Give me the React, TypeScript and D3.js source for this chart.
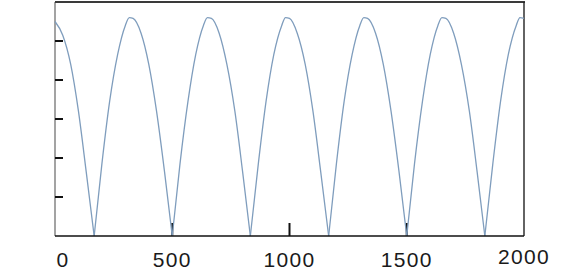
import React from "react";
import * as d3 from "d3";

// x positions (data units) and curve values
const xValues: number[] = [
  0, 33, 67, 100, 133, 167,
  200, 233, 267, 300, 317, 333, 367, 400, 433, 467, 500,
  533, 567, 600, 633, 650, 667, 700, 733, 767, 800, 833,
  867, 900, 933, 967, 983, 1000, 1033, 1067, 1100, 1133, 1167,
  1200, 1233, 1267, 1300, 1317, 1333, 1367, 1400, 1433, 1467, 1500,
  1533, 1567, 1600, 1633, 1650, 1667, 1700, 1733, 1767, 1800, 1833,
  1867, 1900, 1933, 1967, 1983, 2000,
];
const yValues: number[] = [
  5.5, 5.15, 4.4, 3.2, 1.65, 0,
  1.85, 3.45, 4.65, 5.4, 5.6, 5.58, 5.2, 4.4, 3.2, 1.65, 0,
  1.85, 3.45, 4.65, 5.4, 5.6, 5.58, 5.2, 4.4, 3.2, 1.65, 0,
  1.85, 3.45, 4.65, 5.4, 5.6, 5.58, 5.2, 4.4, 3.2, 1.65, 0,
  1.85, 3.45, 4.65, 5.4, 5.6, 5.58, 5.2, 4.4, 3.2, 1.65, 0,
  1.85, 3.45, 4.65, 5.4, 5.6, 5.58, 5.2, 4.4, 3.2, 1.65, 0,
  1.85, 3.45, 4.65, 5.4, 5.6, 5.58,
];
const xTicks: number[] = [0, 500, 1000, 1500, 2000];
const xTickLabels: string[] = ["0", "500", "1000", "1500", "2000"];
const yTicks: number[] = [1, 2, 3, 4, 5];

const W = 579;
const H = 275;
const L = 55;
const R = 524;
const T = 2;
const B = 236;

export default function App() {
  const x = d3.scaleLinear().domain([0, 2000]).range([L, R]);
  const y = d3.scaleLinear().domain([0, 6]).range([B, T]);

  const pts = xValues.map((xv, i) => ({ x: xv, y: yValues[i] }));
  // split into arches at the zero cusps so each cusp stays sharp
  const arches: { x: number; y: number }[][] = [];
  let cur: { x: number; y: number }[] = [];
  pts.forEach((p, i) => {
    cur.push(p);
    if (p.y === 0 && i > 0 && i < pts.length - 1) {
      arches.push(cur);
      cur = [p];
    }
  });
  if (cur.length > 1) arches.push(cur);

  const line = d3
    .line<{ x: number; y: number }>()
    .x((d) => x(d.x))
    .y((d) => y(d.y))
    .curve(d3.curveMonotoneX);

  return (
    <svg
      width={W}
      height={H}
      style={{ position: "absolute", left: 0, top: 0, background: "#fff" }}
      fontFamily="'Liberation Sans', Arial, sans-serif"
    >
      <rect x={0} y={0} width={W} height={H} fill="#fff" />
      {/* frame */}
      <line x1={L} x2={L} y1={T} y2={B} stroke="#8c8c8c" strokeWidth={1.6} />
      <line x1={L} x2={R + 1} y1={T} y2={T} stroke="#3a3a3a" strokeWidth={1.8} />
      <line x1={R} x2={R} y1={T} y2={B} stroke="#222" strokeWidth={1.4} />
      {/* y ticks */}
      {yTicks.map((t) => (
        <line key={"y" + t} x1={L} x2={L + 8} y1={y(t)} y2={y(t)} stroke="#111" strokeWidth={2} />
      ))}
      {/* x ticks */}
      {xTicks.slice(1, -1).map((t) => (
        <line key={"x" + t} x1={x(t)} x2={x(t)} y1={B} y2={B - 13} stroke="#111" strokeWidth={2} />
      ))}
      {/* curve */}
      {arches.map((a, i) => (
        <path key={i} d={line(a) || ""} fill="none" stroke="#7f9dbd" strokeWidth={1.3} />
      ))}
      <line x1={L} x2={R} y1={B} y2={B} stroke="#111" strokeWidth={1.6} />
      {/* x labels */}
      {xTicks.map((t, i) => (
        <text
          key={"l" + t}
          x={x(t) + (i === 0 ? 8 : 0)}
          y={i === xTicks.length - 1 ? 264 : 267}
          textAnchor="middle"
          fontSize={21}
          letterSpacing={1.3}
          fill="#1a1a1a"
        >
          {xTickLabels[i]}
        </text>
      ))}
    </svg>
  );
}
